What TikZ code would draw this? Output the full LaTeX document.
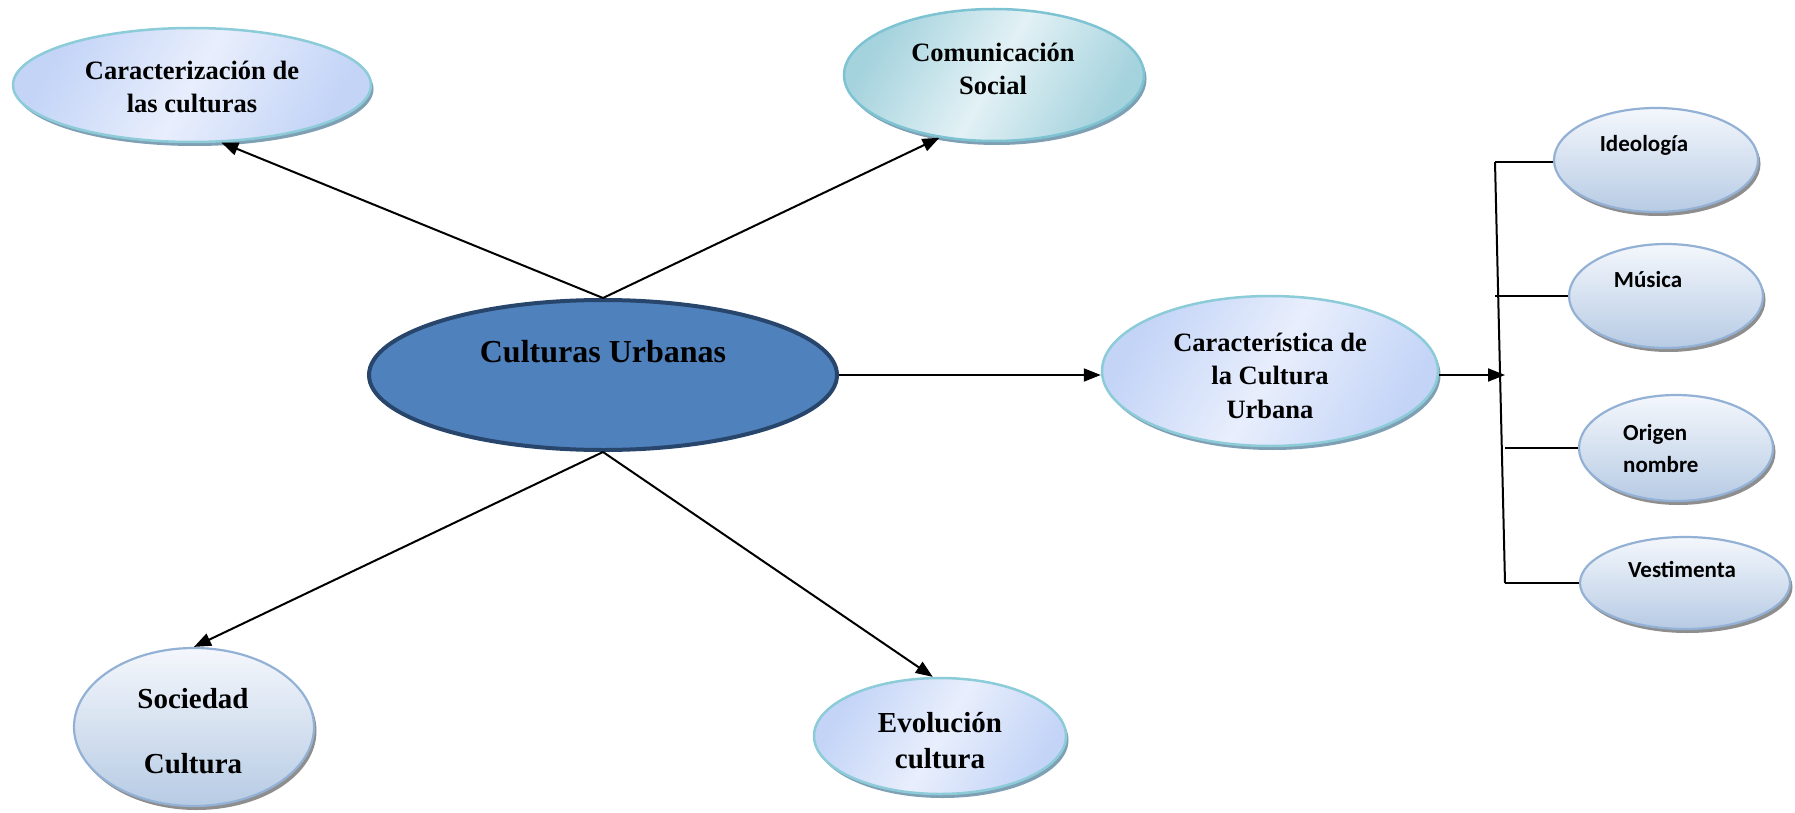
\documentclass[tikz,border=0pt]{standalone}
\usepackage{fontspec}
\setmainfont{Liberation Serif}
\newfontfamily\calib{Carlito}
\usetikzlibrary{arrows.meta,shadows,shapes.geometric,calc}
\definecolor{cuFill}{HTML}{4F81BD}
\definecolor{cuLine}{HTML}{28456B}
\definecolor{lbA}{HTML}{C3D4F7}
\definecolor{lbB}{HTML}{E8EEFC}
\definecolor{lbLine}{HTML}{8CCBD8}
\definecolor{lbShadow}{HTML}{7FA0B4}
\definecolor{tqA}{HTML}{A4D2DD}
\definecolor{tqB}{HTML}{E2F1F5}
\definecolor{tqLine}{HTML}{7EC3D2}
\definecolor{gbTop}{HTML}{F4F7FC}
\definecolor{gbBot}{HTML}{B7CBE4}
\definecolor{gbLine}{HTML}{93B1D5}
\definecolor{gbShadow}{HTML}{8E8E8E}
\begin{document}
\begin{tikzpicture}[x=1pt,y=-1pt,
  ell/.style 2 args={ellipse,inner sep=0pt,minimum width=#1pt,minimum height=#2pt},
  lightblue/.style={draw=lbLine,line width=2.5pt,left color=lbA,right color=lbA,middle color=lbB,shading angle=60,
    general shadow={fill=lbShadow,shadow xshift=2.5pt,shadow yshift=-4pt}},
  teal/.style={draw=tqLine,line width=2.5pt,left color=tqA,right color=tqA,middle color=tqB,shading angle=60,
    general shadow={fill=lbShadow,shadow xshift=2.5pt,shadow yshift=-4pt}},
  greyblue/.style={draw=gbLine,line width=2.2pt,top color=gbTop,bottom color=gbBot,
    general shadow={fill=gbShadow,shadow xshift=2.5pt,shadow yshift=-4pt}},
  central/.style={draw=cuLine,line width=4pt,fill=cuFill},
  serifA/.style={font=\bfseries\fontsize{26.5}{33.5}\selectfont,align=center,anchor=base,inner sep=0pt},
  serifB/.style={font=\bfseries\fontsize{29}{36}\selectfont,align=center,anchor=base,inner sep=0pt},
  sansA/.style={font=\calib\bfseries\fontsize{23}{32}\selectfont,align=center,anchor=base,inner sep=0pt},
  arr/.style={line width=2pt,-{Triangle[length=17pt,width=13pt]}},
  bus/.style={line width=2pt}
]
\useasboundingbox (0,0) rectangle (1795,813);

% ellipses
\node[ell={358}{114},lightblue] (car) at (192,85) {};
\node[ell={300}{132},teal] (com) at (994,75) {};
\node[ell={468}{150},central] (cu) at (603,375) {};
\node[ell={336}{150},lightblue] (carac) at (1270,371) {};
\node[ell={204}{104},greyblue] (ide) at (1656,160) {};
\node[ell={194}{104},greyblue] (mus) at (1666,296) {};
\node[ell={194}{106},greyblue] (ori) at (1676,448) {};
\node[ell={210}{92},greyblue] (ves) at (1685,583) {};
\node[ell={240}{158},greyblue] (soc) at (194,727) {};
\node[ell={252}{116},lightblue] (evo) at (940,736) {};

% texts (anchor = baseline of the last line)
\node[serifA] (tcar) at (192,113) {Caracterización de\\las culturas};
\node[serifA] (tcom) at (993,95) {Comunicación\\Social};
\node[font=\bfseries\fontsize{32}{38}\selectfont,anchor=base,inner sep=0pt] (tcu) at (603,362) {Culturas Urbanas};
\node[serifA] (tcarac) at (1270,418) {Característica de\\la Cultura\\Urbana};
\node[font=\bfseries\fontsize{29}{65}\selectfont,align=center,anchor=base,inner sep=0pt] (tsoc) at (193,773) {Sociedad\\Cultura};
\node[serifB] (tevo) at (940,768) {Evolución\\cultura};
\node[sansA] (tide) at (1644,152) {Ideología};
\node[sansA] (tmus) at (1648,287) {Música};
\node[font=\calib\bfseries\fontsize{23}{32}\selectfont,align=left,anchor=base west,inner sep=0pt] (tori) at (1623,472) {Origen\\nombre};
\node[sansA] (tves) at (1682,577) {Vestimenta};

% connectors from central node
\draw[arr] (cu.north) -- (car.-63);
\draw[arr] (cu.north) -- (com.-131);
\draw[arr] (cu.south) -- (soc.north);
\draw[arr] (cu.south) -- (evo.97);
\draw[arr] (cu.east) -- (cu.east -| carac.west);

% bus on the right
\coordinate (bt) at (1495,162);
\coordinate (bb) at (1505,583);
\draw[bus] (bt) -- (bb);
\draw[arr] (carac.east |- cu.east) -- (cu.east -| bb);
\draw[bus] (bt) -- (bt -| ide.west);
\draw[bus] (mus.west -| bt) -- (mus.west);
\draw[bus] (ori.west -| bb) -- (ori.west);
\draw[bus] (bb) -- (ves.west);
\end{tikzpicture}
\end{document}
